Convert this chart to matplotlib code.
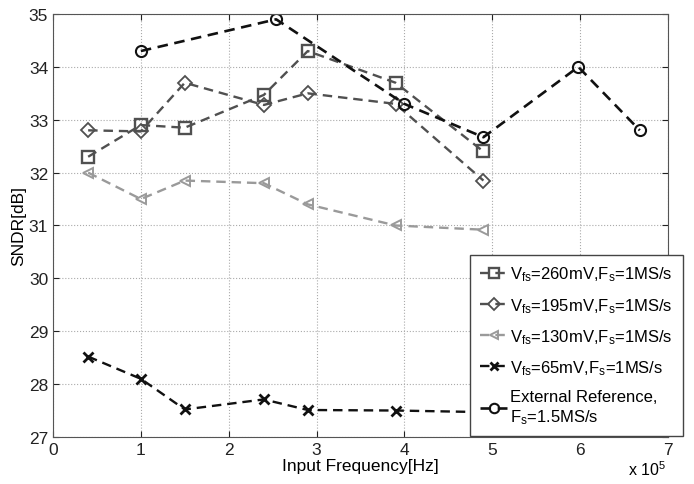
import numpy as np
import matplotlib
matplotlib.use("Agg")
import matplotlib.pyplot as plt

plt.rcParams.update({
    'font.family': ['Liberation Sans', 'DejaVu Sans'],
    'mathtext.fontset': 'custom',
    'mathtext.rm': 'Liberation Sans',
    'mathtext.it': 'Liberation Sans',
    'font.size': 11.5,
})

# Input frequency in units of 1e5 Hz
freq_1ms = [0.4, 1.0, 1.5, 2.4, 2.9, 3.9, 4.9]
sndr_260 = [32.3, 32.9, 32.85, 33.47, 34.3, 33.7, 32.4]
sndr_195 = [32.8, 32.78, 33.7, 33.28, 33.5, 33.3, 31.85]
sndr_130 = [32.0, 31.5, 31.85, 31.8, 31.4, 31.0, 30.92]
sndr_65 = [28.52, 28.1, 27.52, 27.71, 27.51, 27.5, 27.47]

freq_ext = [1.0, 2.54, 4.0, 4.9, 5.98, 6.68]
sndr_ext = [34.3, 34.9, 33.3, 32.67, 34.0, 32.8]

labels = [
    r'V$_{\mathrm{fs}}$=260mV,F$_{\mathrm{s}}$=1MS/s',
    r'V$_{\mathrm{fs}}$=195mV,F$_{\mathrm{s}}$=1MS/s',
    r'V$_{\mathrm{fs}}$=130mV,F$_{\mathrm{s}}$=1MS/s',
    r'V$_{\mathrm{fs}}$=65mV,F$_{\mathrm{s}}$=1MS/s',
    'External Reference,\n' + r'F$_{\mathrm{s}}$=1.5MS/s',
]

fig = plt.figure(figsize=(6.94, 4.85), dpi=100)
ax = fig.add_axes([0.0764, 0.097, 0.886, 0.872])

dash = (0, (4, 2.5))
ax.plot(freq_1ms, sndr_260, ls=dash, color='#505050', lw=1.7, marker='s',
        ms=8, mfc='none', mec='#505050', mew=1.7, label=labels[0])
ax.plot(freq_1ms, sndr_195, ls=dash, color='#505050', lw=1.7, marker='D',
        ms=7.5, mfc='none', mec='#505050', mew=1.3, label=labels[1])
ax.plot(freq_1ms, sndr_130, ls=dash, color='#9a9a9a', lw=1.7, marker='<',
        ms=7.5, mfc='none', mec='#9a9a9a', mew=1.4, label=labels[2])
ax.plot(freq_1ms, sndr_65, ls=dash, color='#111111', lw=1.7, marker='x',
        ms=7.5, mec='#111111', mew=2.0, label=labels[3])
ax.plot(freq_ext, sndr_ext, ls=dash, color='#111111', lw=1.9, marker='o',
        ms=8, mfc='none', mec='#111111', mew=1.5, label=labels[4])

ax.set_xlim(0, 7)
ax.set_ylim(27, 35)
ax.set_xticks(range(0, 8))
ax.set_yticks(range(27, 36))
ax.grid(True, ls=':', color='#aaaaaa', lw=0.8)
ax.tick_params(direction='in', top=True, right=True, length=4,
               labelsize=12.5, colors='#222222')
for s in ax.spines.values():
    s.set_color('#555555')

ax.set_xlabel('Input Frequency[Hz]', fontsize=12.5, labelpad=1)
ax.set_ylabel('SNDR[dB]', fontsize=12.5, labelpad=2)
fig.text(0.905, 0.012, r'x 10$^{5}$', fontsize=11.5, ha='left', va='bottom')

leg = ax.legend(loc='lower right', bbox_to_anchor=(0.984, 0.099),
                bbox_transform=fig.transFigure, borderaxespad=0,
                fontsize=12, handlelength=1.6, handletextpad=0.2,
                labelspacing=0.75, fancybox=False, framealpha=1,
                edgecolor='#444444', borderpad=0.6, markerscale=0.85)
leg.get_frame().set_linewidth(1.0)

fig.savefig('out.png', dpi=100)
